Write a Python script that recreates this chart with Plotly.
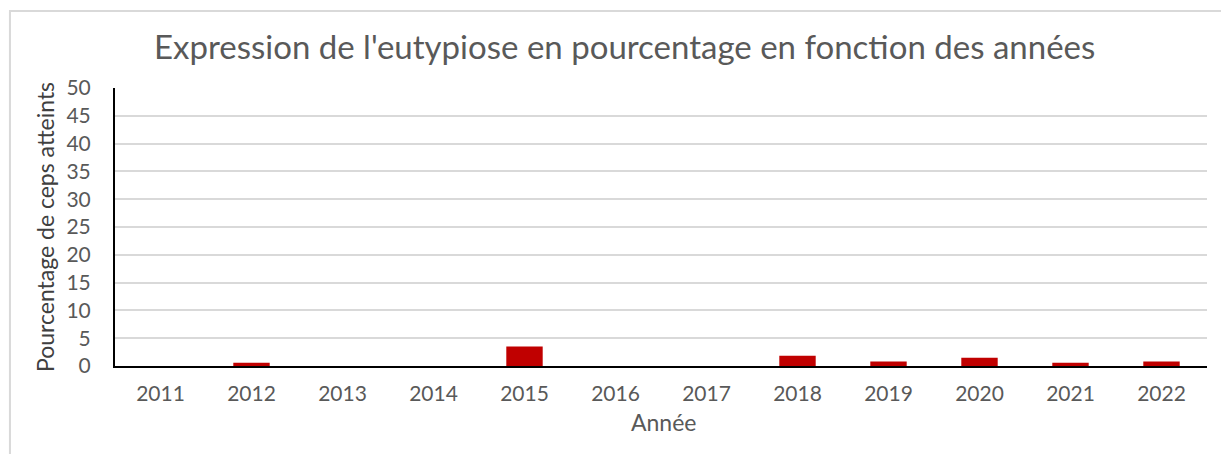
import plotly.graph_objects as go

annees = ['2011', '2012', '2013', '2014', '2015', '2016', '2017', '2018', '2019', '2020', '2021', '2022']
pourcentages = [0, 0.6, 0, 0, 3.5, 0, 0, 1.85, 0.8, 1.5, 0.6, 0.8]
y_ticks = [0, 5, 10, 15, 20, 25, 30, 35, 40, 45, 50]

police = "Lato, Roboto, sans-serif"
gris = '#595959'

fig = go.Figure()

fig.add_trace(go.Bar(
    x=annees,
    y=pourcentages,
    marker=dict(color='#c00000', line=dict(width=0)),
    showlegend=False
))

# la page ajoute ~8px de marge : on compense sur la largeur/hauteur
fig.update_layout(
    title=dict(
        text="Expression de l'eutypiose en pourcentage en fonction des années",
        x=0.505, xanchor='center', y=0.912, yanchor='middle',
        font=dict(family=police, size=33, color=gris)
    ),
    width=1221, height=446,
    margin=dict(l=107, r=22, t=80, b=88, autoexpand=False),
    plot_bgcolor='white',
    paper_bgcolor='white',
    bargap=0.6,
    font=dict(family=police, color=gris),
    shapes=[dict(
        type='rect', xref='paper', yref='paper',
        x0=-0.0962, x1=1.1, y0=-0.4, y1=1.277,
        line=dict(color='#d9d9d9', width=2), fillcolor='rgba(0,0,0,0)', layer='below'
    )],
    annotations=[
        dict(text='Pourcentage de ceps atteints', textangle=-90,
             xref='paper', yref='paper', x=-0.0641, y=0.5,
             xanchor='center', yanchor='middle', showarrow=False,
             font=dict(family=police, size=23, color='#404040')),
        dict(text='Année', xref='paper', yref='paper', x=0.502, y=-0.2014,
             xanchor='center', yanchor='middle', showarrow=False,
             font=dict(family=police, size=23, color=gris)),
    ]
)

fig.update_xaxes(
    tickfont=dict(size=21, color=gris),
    showline=True, linecolor='black', linewidth=2,
    showgrid=False, ticks='', ticklabelstandoff=8, automargin=False
)

fig.update_yaxes(
    range=[0, 50],
    tickvals=y_ticks,
    tickfont=dict(size=21, color=gris),
    showline=True, linecolor='black', linewidth=2,
    showgrid=True, gridcolor='#d9d9d9', gridwidth=1.5,
    zeroline=False, ticks='', ticklabelstandoff=18, automargin=False
)

fig.write_html("out.html")
